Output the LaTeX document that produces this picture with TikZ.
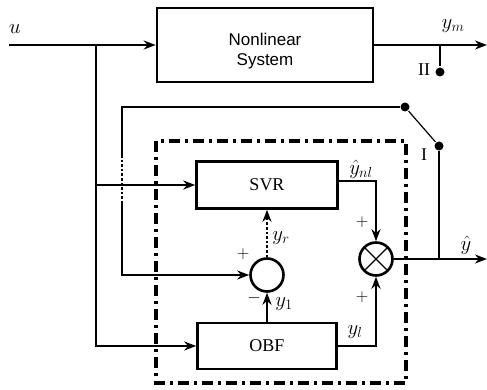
\documentclass[tikz,border=0pt]{standalone}
\usepackage{fontspec}
\setmainfont{Liberation Serif}
\setsansfont{Liberation Sans}
\usepackage{amsmath}
\usetikzlibrary{arrows.meta, calc, positioning}

\begin{document}
\begin{tikzpicture}[x=1pt, y=-1pt, >={Stealth[length=12pt,width=9pt]}, line width=2pt,
    font=\fontsize{18}{21}\selectfont,
    blk/.style={draw, line width=2.6pt, inner sep=0pt},
    junc/.style={draw, circle, line width=2.6pt, minimum size=33pt, inner sep=0pt},
    contact/.style={circle, fill, inner sep=0pt, minimum size=9pt},
    lbl/.style={font=\fontsize{20}{24}\selectfont, inner sep=1pt},
    sgn/.style={font=\fontsize{16}{18}\selectfont}]
    \useasboundingbox (0,0) rectangle (487,390);

    % blocks
    \node[blk, minimum width=216pt, minimum height=74pt,
          label={[yshift=-6pt, align=center, font=\sffamily\fontsize{17}{20}\selectfont]center:Nonlinear\\System}] (nls) at (265,45) {};
    \node[blk, minimum width=141pt, minimum height=47pt] (svr) at (267,185) {SVR};
    \node[blk, minimum width=139pt, minimum height=46pt] (obf) at (267,346) {OBF};
    \node[junc] (sum) at (267,275) {};
    \node[junc, path picture={
        \draw[line width=1.4pt] (path picture bounding box.north west) -- (path picture bounding box.south east);
        \draw[line width=1.4pt] (path picture bounding box.south west) -- (path picture bounding box.north east);}] (mul) at (376,259) {};

    % dash-dot frame
    \draw[line width=3.2pt, dash pattern=on 11pt off 5pt on 3pt off 5pt] (156,141) rectangle (406,383);

    % points
    \coordinate (in) at (9,45);
    \coordinate (b1) at (96,45);
    \coordinate (b2) at (96,185);
    \coordinate (ymout) at (487,45);
    \coordinate (yout) at (487,259);
    \coordinate (p2) at (440,45);
    \node[contact] (c2) at (440,72) {};
    \node[contact] (c1a) at (405,107) {};
    \node[contact] (c1b) at (439,146) {};
    \coordinate (fb1) at (122,107);
    \coordinate (fb2) at (122,155);
    \coordinate (fb3) at (122,202);
    \coordinate (fb4) at (122,275);

    % input and plant
    \draw[->] (in) -- (nls.west);
    \draw[->] (nls.east) -- (ymout);
    \draw (p2) -- (c2);
    \draw[->] (b1) |- (svr.west);
    \draw[->] (b2) |- (obf.west);

    % switch and feedback
    \draw[line width=1.2pt] (c1a) -- (c1b);
    \draw (c1a) -- (fb1) -- (fb2);
    \draw[dotted, line width=2.6pt] (fb2) -- (fb3);
    \draw[->] (fb3) -- (fb4) -- (sum.west);
    \draw (c1b) -- (c1b |- mul.east);

    % inner loop
    \draw[->, dotted, line width=2.6pt] (sum.north) -- (svr.south);
    \draw[->] (obf.north) -- (sum.south);
    \draw[->] ([yshift=4pt]svr.east) -| (mul.north);
    \draw[->] (obf.east) -| (mul.south);
    \draw[->] (mul.east) -- (yout);

    % labels
    \node[lbl] (lu) at (15,29) {$u$};
    \node[lbl] (lym) at (453,26) {$y_m$};
    \node (lII) at (424,70) {II};
    \node (lI) at (424,155) {I};
    \node[lbl] (lynl) at (361,169) {$\hat{y}_{nl}$};
    \node[lbl] (lyr) at (281,238) {$y_r$};
    \node[lbl] (ly1) at (284,304) {$y_1$};
    \node[lbl] (lyl) at (355,332) {$y_l$};
    \node[lbl] (lyh) at (466,245) {$\hat{y}$};
    \node[sgn] (s1) at (243,254) {$+$};
    \node[sgn] (s2) at (254,298) {$-$};
    \node[sgn] (s3) at (362,222) {$+$};
    \node[sgn] (s4) at (362,297) {$+$};
\end{tikzpicture}
\end{document}
